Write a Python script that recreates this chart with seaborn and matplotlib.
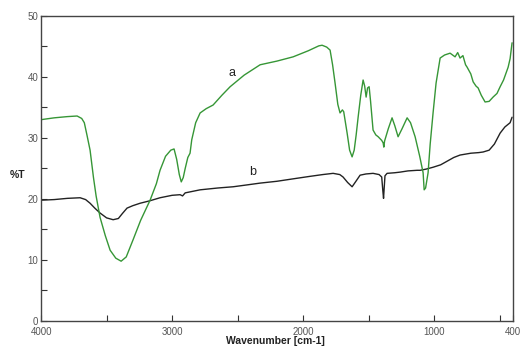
import numpy as np
import pandas as pd
import seaborn as sb
import matplotlib
matplotlib.use('Agg')
import matplotlib.pyplot as plt

# curba a (verde)
wn_a = [4000, 3900, 3800, 3725, 3690, 3670, 3650, 3626, 3600, 3580, 3550, 3510, 3473, 3430,
        3389, 3350, 3298, 3240, 3168, 3120, 3092, 3050, 3010, 2985, 2965, 2945, 2930, 2915,
        2900, 2880, 2863, 2850, 2820, 2786, 2740, 2687, 2620, 2557, 2450, 2328, 2200, 2076,
        1960, 1880, 1855, 1820, 1794, 1775, 1756, 1735, 1718, 1700, 1690, 1664, 1645, 1626,
        1610, 1595, 1580, 1560, 1542, 1530, 1519, 1508, 1496, 1485, 1466, 1445, 1427, 1400,
        1389, 1384, 1378, 1350, 1321, 1300, 1275, 1245, 1206, 1180, 1145, 1110, 1084, 1076,
        1065, 1046, 1030, 1008, 985, 954, 920, 878, 840, 820, 802, 780, 760, 748, 720, 702,
        680, 664, 640, 611, 580, 550, 520, 496, 470, 435, 420, 405]
t_a = [33.0, 33.3, 33.5, 33.6, 33.2, 32.5, 30.5, 28.0, 23.5, 20.5, 17.0, 14.0, 11.6, 10.3,
       9.8, 10.5, 13.3, 16.5, 19.8, 22.5, 24.7, 27.0, 28.0, 28.2, 26.5, 24.0, 22.8, 23.5,
       25.0, 26.8, 27.5, 29.7, 32.5, 34.1, 34.8, 35.4, 37.0, 38.4, 40.3, 42.0, 42.6, 43.3,
       44.3, 45.1, 45.2, 44.9, 44.4, 42.0, 39.0, 35.5, 34.1, 34.6, 34.3, 30.8, 28.0, 26.9,
       28.0, 30.5, 33.4, 37.0, 39.5, 38.5, 36.7, 38.2, 38.4, 36.0, 31.3, 30.5, 30.2, 29.6,
       29.2, 28.5, 29.5, 31.5, 33.3, 32.0, 30.2, 31.5, 33.3, 32.5, 30.2, 27.0, 24.3, 21.5,
       21.8, 24.3, 29.0, 34.1, 39.0, 43.1, 43.6, 43.9, 43.3, 44.0, 43.1, 43.5, 42.0, 41.6,
       40.5, 39.2, 38.5, 38.2, 37.0, 35.9, 36.0, 36.7, 37.3, 38.4, 39.5, 41.6, 43.0, 45.6]

# curba b (neagra)
wn_b = [4000, 3900, 3800, 3702, 3660, 3626, 3590, 3550, 3500, 3450, 3410, 3380, 3344, 3300,
        3244, 3170, 3092, 3000, 2939, 2920, 2900, 2786, 2650, 2534, 2430, 2328, 2200, 2076,
        1950, 1850, 1771, 1720, 1695, 1660, 1626, 1600, 1565, 1520, 1466, 1420, 1400, 1392,
        1386, 1382, 1375, 1359, 1300, 1260, 1200, 1130, 1107, 1060, 1008, 950, 900, 850,
        802, 720, 660, 626, 580, 540, 496, 460, 420, 405]
t_b = [19.8, 19.9, 20.1, 20.2, 19.9, 19.3, 18.5, 17.7, 16.9, 16.6, 16.8, 17.6, 18.5, 18.9,
       19.3, 19.7, 20.2, 20.6, 20.7, 20.5, 21.0, 21.5, 21.8, 22.0, 22.3, 22.6, 22.9, 23.3,
       23.7, 24.0, 24.2, 24.0, 23.6, 22.7, 22.0, 22.8, 23.9, 24.1, 24.2, 24.0, 23.6, 21.5,
       20.1, 21.5, 23.8, 24.2, 24.3, 24.4, 24.6, 24.7, 24.7, 24.9, 25.2, 25.6, 26.2, 26.8,
       27.2, 27.5, 27.6, 27.7, 28.0, 29.0, 30.8, 31.8, 32.5, 33.4]

x_major = [4000, 3000, 2000, 1000, 400]
x_minor = [3500, 2500, 1500, 500]

sb.set_style('white')
plt.rcParams['font.family'] = ['Liberation Sans', 'DejaVu Sans']

fig = plt.figure(figsize=(5.2, 3.47), dpi=100)
ax = fig.add_axes([0.079, 0.075, 0.907, 0.879])

df_a = pd.DataFrame({'wn': wn_a, 't': t_a})
df_b = pd.DataFrame({'wn': wn_b, 't': t_b})
sb.lineplot(data=df_b, x='wn', y='t', sort=False, estimator=None,
            color='#222222', linewidth=1.0, ax=ax)
sb.lineplot(data=df_a, x='wn', y='t', sort=False, estimator=None,
            color='#369636', linewidth=1.0, ax=ax)

ax.text(2542, 40.7, 'a', fontsize=9, color='#222222', ha='center', va='center')
ax.text(2382, 24.4, 'b', fontsize=9, color='#222222', ha='center', va='center')

ax.set_xlim(4000, 400)
ax.set_ylim(0, 50)
ax.set_xticks(x_major)
ax.set_xticks(x_minor, minor=True)
ax.set_yticks([0, 10, 20, 30, 40, 50])
ax.set_yticks([5, 15, 25, 35, 45], minor=True)
ax.tick_params(which='both', direction='in', length=4, width=0.8, colors='#333333',
               labelsize=7, labelcolor='#555555', pad=2)
ax.tick_params(axis='x', which='both', pad=4.5)
ax.tick_params(bottom=True, left=True, which='both')

for side in ['left', 'bottom', 'top', 'right']:
    ax.spines[side].set_color('#444444')
    ax.spines[side].set_linewidth(1.0)

ax.set_xlabel('')
ax.set_ylabel('')
fig.text(275 / 520, 1 - 341 / 347, 'Wavenumber [cm-1]', fontsize=7.5, fontweight='bold',
         color='#222222', ha='center', va='center')
fig.text(18 / 520, 1 - 175 / 347, '%T', fontsize=7.5, fontweight='bold', color='#222222',
         ha='center', va='center')

fig.savefig('out.png', dpi=100)
